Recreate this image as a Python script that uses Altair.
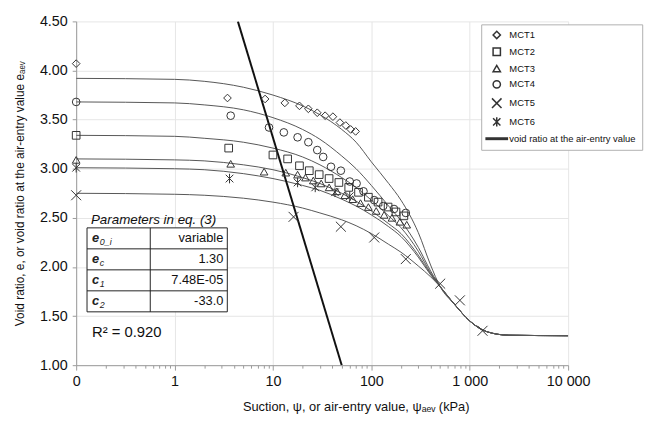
import altair as alt
import pandas as pd

FONT = "Liberation Sans"
INK = "#333333"

series = ["MCT1", "MCT2", "MCT3", "MCT4", "MCT5", "MCT6"]
aev_name = "void ratio at the air-entry value"

# ---- measured points (suction kPa, void ratio) ----
mct1_x = [0.1, 3.45, 8.32, 13.2, 18.6, 22.9, 28.2, 33.9, 40.7, 47.9, 55, 61.7, 69.2]
mct1_e = [4.07, 3.72, 3.71, 3.67, 3.64, 3.61, 3.57, 3.54, 3.53, 3.47, 3.44, 3.40, 3.38]
mct2_x = [0.1, 3.55, 10, 14.1, 18.6, 23.4, 29.5, 37.2, 46.8, 58.9, 74.1, 93.3, 117, 148, 178, 214]
mct2_e = [3.34, 3.21, 3.14, 3.10, 3.03, 2.98, 2.94, 2.90, 2.86, 2.81, 2.76, 2.71, 2.66, 2.61, 2.56, 2.52]
mct3_x = [0.1, 3.72, 8.13, 13.5, 17.8, 21.4, 25.7, 30.9, 37.2, 44.7, 53.7, 64.6, 77.6, 93.3, 112, 135, 162, 195, 229]
mct3_e = [3.09, 3.05, 2.97, 2.96, 2.94, 2.91, 2.88, 2.85, 2.81, 2.77, 2.73, 2.69, 2.65, 2.61, 2.57, 2.53, 2.50, 2.46, 2.43]
mct4_x = [0.1, 3.72, 9.12, 12.9, 17.8, 22.9, 28.2, 32.4, 38.9, 49, 60.3, 70.8, 83.2, 107, 132, 170, 224]
mct4_e = [3.68, 3.54, 3.42, 3.37, 3.32, 3.27, 3.19, 3.12, 3.02, 2.98, 2.87, 2.85, 2.77, 2.68, 2.62, 2.59, 2.55]
mct5_x = [0.1, 16.2, 49, 107, 224, 501, 794, 1349]
mct5_e = [2.73, 2.51, 2.41, 2.30, 2.08, 1.83, 1.66, 1.35]
mct6_x = [0.1, 3.62, 17.8, 26.9, 42.7, 60.3]
mct6_e = [3.01, 2.90, 2.86, 2.81, 2.76, 2.72]

# ---- fitted curves ----
curve_x = [0.1, 1, 2, 5, 10, 20, 30, 50, 70, 100, 150, 200, 300, 400,
           500, 700, 1000, 1500, 2500, 10000]
tail_e = [1.80, 1.62, 1.45, 1.34, 1.305, 1.30]
fit_mct1 = [3.92, 3.91, 3.89, 3.83, 3.75, 3.64, 3.55, 3.40, 3.27, 3.07, 2.85, 2.68, 2.35, 2.02]
fit_mct2 = [3.34, 3.33, 3.31, 3.27, 3.21, 3.12, 3.04, 2.91, 2.81, 2.68, 2.52, 2.40, 2.16, 1.94]
fit_mct3 = [3.10, 3.09, 3.08, 3.04, 2.99, 2.91, 2.85, 2.75, 2.67, 2.57, 2.44, 2.34, 2.12, 1.93]
fit_mct4 = [3.68, 3.67, 3.65, 3.60, 3.52, 3.40, 3.30, 3.13, 3.00, 2.83, 2.62, 2.47, 2.20, 1.96]
fit_mct5 = [2.75, 2.74, 2.73, 2.70, 2.66, 2.60, 2.55, 2.48, 2.42, 2.34, 2.23, 2.15, 2.01, 1.90]
fit_mct6 = [3.01, 3.00, 2.99, 2.95, 2.90, 2.83, 2.78, 2.69, 2.62, 2.53, 2.41, 2.31, 2.10, 1.92]

# ---- air-entry line ----
aev_x = [4.4, 50]
aev_e = [4.5, 1.0]

# ---- parameter table ----
table_title = "Parameters in eq. (3)"
param_main = ["e", "e", "c", "c"]
param_sub = ["0_i", "c", "1", "2"]
param_val = ["variable", "1.30", "7.48E-05", "-33.0"]
r2_text = "R² = 0.920"

x_title = "Suction, ψ, or air-entry value, ψₐₑᵥ (kPa)"
y_title = "Void ratio, e, or void ratio at the air-entry value eₐₑᵥ"
y_ticks = [1.0, 1.5, 2.0, 2.5, 3.0, 3.5, 4.0, 4.5]

# ---------------------------------------------------------------
pts_x = [mct1_x, mct2_x, mct3_x, mct4_x, mct5_x, mct6_x]
pts_e = [mct1_e, mct2_e, mct3_e, mct4_e, mct5_e, mct6_e]
rows = []
for s, xs, es in zip(series, pts_x, pts_e):
    for a, b in zip(xs, es):
        rows.append({"series": s, "x": a, "e": b})
points = pd.DataFrame(rows)

fits = [fit_mct1, fit_mct2, fit_mct3, fit_mct4, fit_mct5, fit_mct6]
crow = []
for s, f in zip(series, fits):
    for a, b in zip(curve_x, f + tail_e):
        crow.append({"series": s, "x": a, "e": b})
curves = pd.DataFrame(crow)

aev = pd.DataFrame({"x": aev_x, "e": aev_e})

major_test = "abs(log(datum.value)/LN10 - round(log(datum.value)/LN10)) < 0.001"
minor_vals = [m * 10 ** k for k in range(-1, 4) for m in range(1, 10)] + [10000]
minor_vals = [round(v, 6) for v in minor_vals]

xscale = alt.Scale(type="log", domain=[0.1, 10000], nice=False)
yscale = alt.Scale(domain=[1, 4.5], nice=False, zero=False)

xaxis = alt.Axis(
    title=x_title, values=minor_vals,
    labelExpr=f"{major_test} ? (datum.value < 1 ? '0' : replace(format(datum.value, ','), ',', ' ')) : ''",
    tickSize={"condition": {"test": major_test, "value": 5}, "value": 3},
    gridOpacity={"condition": {"test": major_test, "value": 1}, "value": 0},
    labelFlush=False, labelBound=False, labelOverlap=False,
    labelPadding=5, titlePadding=12, titleX=283,
)
yaxis = alt.Axis(title=y_title, values=y_ticks, format=".2f", tickSize=4,
                 labelPadding=5, titlePadding=13)

X = alt.X("x:Q", scale=xscale, axis=xaxis)
Y = alt.Y("e:Q", scale=yscale, axis=yaxis)

curve_layer = alt.Chart(curves).mark_line(
    color="#555555", strokeWidth=1, interpolate="monotone", clip=True
).encode(x=X, y=Y, detail="series:N", order="x:Q")

aev_layer = alt.Chart(aev).mark_line(color="#111111", strokeWidth=2, clip=True).encode(x=X, y=Y)

X_PATH = "M-1.3,-1.3L1.3,1.3M-1.3,1.3L1.3,-1.3"
AST_PATH = "M-1,-1L1,1M-1,1L1,-1M0,-1.25L0,1.25"
LINE_PATH = "M-2.9,-0.2L2.9,-0.2L2.9,0.2L-2.9,0.2Z"
domain = series + [aev_name]
shapes = ["diamond", "square", "triangle-up", "circle", X_PATH, AST_PATH, LINE_PATH]

legend = alt.Legend(
    title=None, orient="none", legendX=410, legendY=3, fillColor="white",
    strokeColor="#b0b0b0", padding=6, labelFontSize=9.5, labelFont=FONT,
    labelColor="#111111", symbolSize=55, rowPadding=3, labelOffset=8,
    symbolOffset=5, labelLimit=260,
)

point_layer = alt.Chart(points).mark_point(
    filled=False, size=60, color=INK, opacity=1, strokeWidth=1
).encode(
    x=X, y=Y,
    shape=alt.Shape("series:N", scale=alt.Scale(domain=domain, range=shapes), legend=legend),
)

# ---- table overlay (pixel positions inside the plot area) ----
L, R, S, T, H = 11, 153, 75, 209, 21.25
one = pd.DataFrame({"k": [0]})
tbl = [
    alt.Chart(one).mark_rect(fill="white", stroke="#222222", strokeWidth=1).encode(
        x=alt.value(L), x2=alt.value(R), y=alt.value(T), y2=alt.value(T + 4 * H)),
    alt.Chart(one).mark_rule(color="#222222", strokeWidth=1).encode(
        x=alt.value(S), y=alt.value(T), y2=alt.value(T + 4 * H)),
]
for i in range(1, 4):
    tbl.append(alt.Chart(one).mark_rule(color="#222222", strokeWidth=1).encode(
        x=alt.value(L), x2=alt.value(R), y=alt.value(T + i * H)))
tbl.append(alt.Chart(pd.DataFrame({"t": [table_title]})).mark_text(
    align="left", baseline="alphabetic", fontSize=13.5, fontStyle="italic", font=FONT, color="#111111"
).encode(x=alt.value(15), y=alt.value(T - 4), text="t:N"))
for i in range(4):
    yc = T + (i + 0.5) * H
    tbl.append(alt.Chart(pd.DataFrame({"t": [param_main[i]]})).mark_text(
        align="left", baseline="middle", fontSize=13, fontStyle="italic", fontWeight="bold",
        font=FONT, color="#222222").encode(x=alt.value(16), y=alt.value(yc), text="t:N"))
    tbl.append(alt.Chart(pd.DataFrame({"t": [param_sub[i]]})).mark_text(
        align="left", baseline="middle", fontSize=9, fontStyle="italic",
        font=FONT, color="#222222").encode(x=alt.value(24), y=alt.value(yc + 4), text="t:N"))
    tbl.append(alt.Chart(pd.DataFrame({"t": [param_val[i]]})).mark_text(
        align="right", baseline="middle", fontSize=13, font=FONT, color="#111111"
    ).encode(x=alt.value(R - 4), y=alt.value(yc), text="t:N"))
tbl.append(alt.Chart(pd.DataFrame({"t": [r2_text]})).mark_text(
    align="left", baseline="middle", fontSize=15, font=FONT, color="#111111"
).encode(x=alt.value(16), y=alt.value(314), text="t:N"))

chart = alt.layer(curve_layer, aev_layer, point_layer, *tbl).properties(
    width=498, height=348,
    padding={"left": 69, "top": 11, "right": 93, "bottom": 58},
    autosize=alt.AutoSizeParams(type="none"),
).configure(font=FONT).configure_view(strokeWidth=0).configure_axis(
    labelFont=FONT, titleFont=FONT, labelFontSize=14.5, titleFontSize=13,
    titleFontWeight="normal", labelColor="#111111", titleColor="#111111",
    domainColor="#9a9a9a", tickColor="#9a9a9a", gridColor="#e6e6e6",
).configure_axisY(titleFontSize=12)

chart.save("out.html", embed_options={"renderer": "svg", "actions": False})
